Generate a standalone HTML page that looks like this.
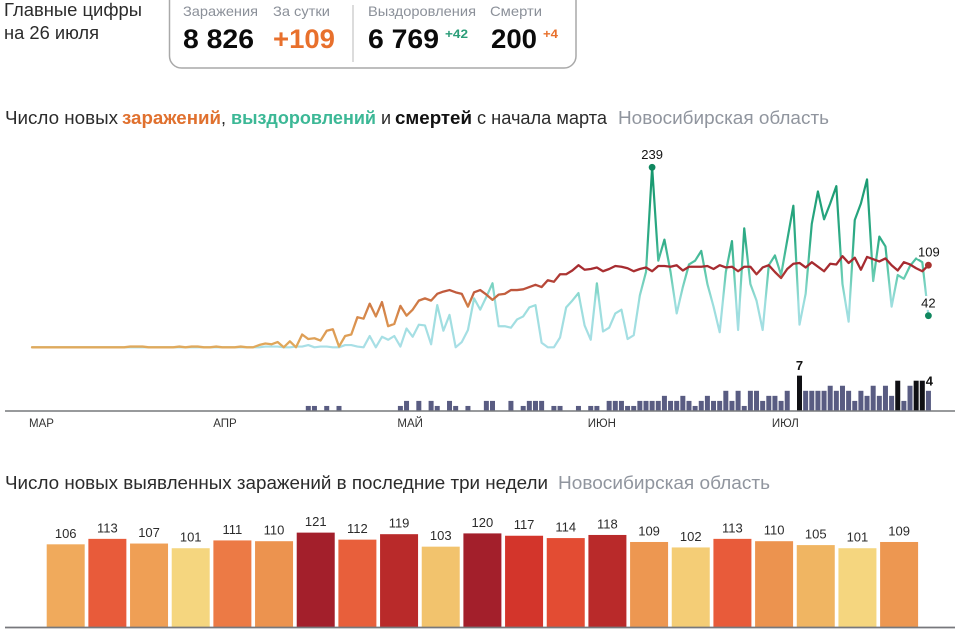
<!DOCTYPE html>
<html lang="ru">
<head>
<meta charset="utf-8">
<title>Коронавирус: Новосибирская область</title>
<style>
  html, body { margin: 0; padding: 0; background: #fff; }
  #stage { position: relative; width: 960px; height: 629px; overflow: hidden; background: #fff; }
  svg { position: absolute; left: 0; top: 0; display: block; }
  text { font-family: "Liberation Sans", "DejaVu Sans", sans-serif; }
</style>
</head>
<body>
<div id="stage">
<svg id="chart" width="960" height="629" viewBox="0 0 960 629" xmlns="http://www.w3.org/2000/svg">
  <defs>
    <linearGradient id="recoveries-gradient" gradientUnits="userSpaceOnUse" x1="0" x2="0" y1="347.3" y2="167"></linearGradient>
    <linearGradient id="infections-gradient" gradientUnits="userSpaceOnUse" x1="0" x2="0" y1="347.3" y2="167"></linearGradient>
  </defs>

  <text x="4" y="16" font-size="18" fill="#2b2b2b" textLength="138" lengthAdjust="spacingAndGlyphs">Главные цифры</text>
  <text x="4" y="39" font-size="18" fill="#2b2b2b" textLength="95" lengthAdjust="spacingAndGlyphs">на 26 июля</text>

  <rect x="169.5" y="-20" width="406.5" height="88" rx="12" ry="12" fill="#fff" stroke="#a9a9a9" stroke-width="1.5"/>
  <line x1="353" x2="353" y1="5" y2="62" stroke="#b9b9b9" stroke-width="1"/>

  <text x="183" y="16" font-size="14" fill="#8b9099" textLength="75" lengthAdjust="spacingAndGlyphs">Заражения</text>
  <text x="273" y="16" font-size="14" fill="#8b9099" textLength="57" lengthAdjust="spacingAndGlyphs">За сутки</text>
  <text x="368" y="16" font-size="14" fill="#8b9099" textLength="108" lengthAdjust="spacingAndGlyphs">Выздоровления</text>
  <text x="490" y="16" font-size="14" fill="#8b9099" textLength="52" lengthAdjust="spacingAndGlyphs">Смерти</text>

  <text x="183" y="48" font-size="27" font-weight="700" fill="#0b0b0b" textLength="71" lengthAdjust="spacingAndGlyphs">8 826</text>
  <text x="273" y="48" font-size="27" font-weight="700" fill="#e8702c" textLength="62" lengthAdjust="spacingAndGlyphs">+109</text>
  <text x="368" y="48" font-size="27" font-weight="700" fill="#0b0b0b" textLength="71" lengthAdjust="spacingAndGlyphs">6 769</text>
  <text x="445" y="38" font-size="12" font-weight="700" fill="#2a9d78" textLength="23" lengthAdjust="spacingAndGlyphs">+42</text>
  <text x="491" y="48" font-size="27" font-weight="700" fill="#0b0b0b" textLength="46" lengthAdjust="spacingAndGlyphs">200</text>
  <text x="543" y="38" font-size="12" font-weight="700" fill="#e8702c" textLength="15" lengthAdjust="spacingAndGlyphs">+4</text>

  <g>
    <text x="5" y="124" font-size="18" fill="#2b2b2b" textLength="113" lengthAdjust="spacingAndGlyphs">Число новых</text>
    <text x="122" y="124" font-size="18" font-weight="700" fill="#e0712f" textLength="99" lengthAdjust="spacingAndGlyphs">заражений</text>
    <text x="221" y="124" font-size="18" fill="#2b2b2b">,</text>
    <text x="231" y="124" font-size="18" font-weight="700" fill="#3cb896" textLength="145" lengthAdjust="spacingAndGlyphs">выздоровлений</text>
    <text x="381" y="124" font-size="18" fill="#2b2b2b">и</text>
    <text x="395" y="124" font-size="18" font-weight="700" fill="#111" textLength="77" lengthAdjust="spacingAndGlyphs">смертей</text>
    <text x="477" y="124" font-size="18" fill="#2b2b2b" textLength="130" lengthAdjust="spacingAndGlyphs">с начала марта</text>
    <text x="618" y="124" font-size="18" fill="#90959e" textLength="211" lengthAdjust="spacingAndGlyphs">Новосибирская область</text>
  </g>

  <g id="line-chart"></g>

  <g>
    <text x="5" y="489" font-size="18" fill="#2b2b2b" textLength="543" lengthAdjust="spacingAndGlyphs">Число новых выявленных заражений в последние три недели</text>
    <text x="558" y="489" font-size="18" fill="#90959e" textLength="212" lengthAdjust="spacingAndGlyphs">Новосибирская область</text>
  </g>

  <g id="bar-chart"></g>
</svg>
</div>

<script>
const monthLabels = ["МАР", "АПР", "МАЙ", "ИЮН", "ИЮЛ"];
const monthStartDays = [0, 30, 60, 91, 121];

const infections = [
  0, 0, 0, 0, 0, 0, 0, 0, 0, 0,
  0, 0, 0, 0, 0, 0, 1, 1, 1, 0,
  0, 0, 0, 0, 1, 0, 1, 1, 0, 0,
  1, 0, 0, 0, 1, 0, 0, 3, 5, 4,
  7, 0, 8, 0, 17, 11, 12, 9, 22, 24,
  1, 15, 17, 40, 38, 58, 41, 60, 28, 31,
  55, 42, 50, 62, 65, 62, 71, 74, 76, 73,
  71, 54, 73, 76, 70, 63, 70, 71, 76, 76,
  77, 80, 83, 80, 89, 87, 97, 97, 102, 109,
  103, 104, 106, 101, 104, 108, 107, 105, 101, 104,
  106, 101, 108, 108, 107, 109, 102, 107, 107, 107,
  108, 104, 109, 106, 107, 101, 107, 107, 97, 106,
  109, 100, 92, 104, 111, 112, 106, 113, 107, 101,
  111, 110, 121, 112, 119, 103, 120, 117, 114, 118,
  109, 102, 113, 110, 105, 101, 109
];

const recoveries = [
  0, 0, 0, 0, 0, 0, 0, 0, 0, 0,
  0, 0, 0, 0, 0, 0, 0, 0, 0, 0,
  0, 0, 0, 0, 0, 0, 0, 0, 0, 0,
  0, 0, 0, 0, 0, 0, 0, 0, 1, 1,
  1, 0, 0, 1, 1, 3, 0, 1, 1, 0,
  0, 3, 3, 1, 0, 15, 0, 14, 10, 15,
  1, 25, 14, 30, 29, 4, 56, 22, 43, 0,
  7, 23, 65, 50, 67, 85, 28, 28, 26, 37,
  41, 53, 56, 6, 0, 0, 13, 53, 62, 72,
  29, 10, 85, 21, 26, 45, 50, 11, 16, 69,
  100, 239, 115, 143, 100, 45, 80, 110, 115, 128,
  84, 54, 20, 100, 141, 23, 158, 84, 62, 23,
  109, 122, 96, 142, 188, 30, 71, 164, 207, 170,
  191, 214, 84, 34, 169, 191, 223, 88, 147, 134,
  54, 96, 91, 108, 118, 113, 42
];

const deaths = [
  0, 0, 0, 0, 0, 0, 0, 0, 0, 0,
  0, 0, 0, 0, 0, 0, 0, 0, 0, 0,
  0, 0, 0, 0, 0, 0, 0, 0, 0, 0,
  0, 0, 0, 0, 0, 0, 0, 0, 0, 0,
  0, 0, 0, 0, 0, 1, 1, 0, 1, 0,
  1, 0, 0, 0, 0, 0, 0, 0, 0, 0,
  1, 2, 0, 2, 0, 2, 1, 0, 2, 1,
  0, 1, 0, 0, 2, 2, 0, 0, 2, 0,
  1, 2, 2, 2, 0, 1, 1, 0, 0, 1,
  0, 1, 1, 0, 2, 2, 2, 1, 1, 2,
  2, 2, 2, 3, 2, 2, 3, 2, 1, 2,
  3, 2, 2, 4, 2, 4, 1, 4, 4, 2,
  3, 3, 2, 4, 0, 7, 4, 4, 4, 4,
  5, 4, 5, 4, 2, 4, 3, 5, 3, 5,
  3, 6, 2, 5, 6, 6, 4
];

const highlightedDeathDays = [125, 141, 144, 145];

const recentCases = [106, 113, 107, 101, 111, 110, 121, 112, 119, 103, 120, 117, 114, 118, 109, 102, 113, 110, 105, 101, 109];

const SVG_NS = "http://www.w3.org/2000/svg";

function make(parent, tag, attrs, content) {
  const el = document.createElementNS(SVG_NS, tag);
  for (const key in attrs) el.setAttribute(key, attrs[key]);
  if (content !== undefined) el.textContent = content;
  parent.appendChild(el);
  return el;
}

/* Axis functions */
const xDay = function (i) { return 32 + 6.14 * i; };
const yLine = function (v) { return 347.3 - 0.753 * v; };
const yDeath = function (v) { return 411 - 5.05 * v; };
const xBar = function (i) { return 46.7 + 41.67 * i; };
const yBar = function (v) { return 627 - 0.78 * v; };

/* Line gradients run along the value axis */
function addStops(id, stops) {
  const grad = document.getElementById(id);
  const y0 = yLine(0);
  const y1 = yLine(239);
  grad.setAttribute("y1", y0);
  grad.setAttribute("y2", y1);
  stops.forEach(function (s) {
    make(grad, "stop", { offset: s[0], "stop-color": s[1] });
  });
}
addStops("recoveries-gradient", [
  [0, "#a9dfe6"], [0.25, "#9bdedd"], [0.42, "#5fc9ab"], [0.6, "#2fac87"], [1, "#15966c"]
]);
addStops("infections-gradient", [
  [0, "#e0aa5c"], [0.12, "#dc9450"], [0.25, "#cf7a45"], [0.33, "#bb4f3a"], [0.44, "#a62b30"], [1, "#a0262c"]
]);

function linePath(values) {
  return values.map(function (v, i) {
    return (i === 0 ? "M" : "L") + xDay(i).toFixed(2) + " " + yLine(v).toFixed(2);
  }).join(" ");
}

const lineChart = document.getElementById("line-chart");

/* Deaths bars */
const deathsGroup = make(lineChart, "g", {});


deaths.forEach(function (v, i) {
  if (v <= 0) return;
  const bar = make(deathsGroup, "rect", {
    x: (xDay(i) - 2.5).toFixed(2),
    y: yDeath(v).toFixed(2),
    width: 5,
    height: (yDeath(0) - yDeath(v)).toFixed(2),
    fill: highlightedDeathDays.indexOf(i) >= 0 ? "#101014" : "#595c82"
  });
  
  
});

/* Axis */
const lineAxis = make(lineChart, "line", { x1: 5, x2: 955, y1: 411, y2: 411, stroke: "#77787c", "stroke-width": 1.6 });



monthLabels.forEach(function (label, i) {
  const tick = make(lineChart, "text", {
    x: (xDay(monthStartDays[i]) - 3).toFixed(1),
    y: 427,
    "font-size": 11.5,
    fill: "#333"
  }, label);
  
  
});

/* Lines */
const recoveriesLine = make(lineChart, "path", {
  d: linePath(recoveries), fill: "none", stroke: "url(#recoveries-gradient)",
  "stroke-width": 2.2, "stroke-linejoin": "round", "stroke-linecap": "round"
});



const infectionsLine = make(lineChart, "path", {
  d: linePath(infections), fill: "none", stroke: "url(#infections-gradient)",
  "stroke-width": 2.3, "stroke-linejoin": "round", "stroke-linecap": "round"
});



/* Point markers and value labels */
function pointLabel(x, y, value, weight) {
  const t = make(lineChart, "text", {
    x: x.toFixed(1), y: y.toFixed(1), "text-anchor": "middle", "font-size": 13,
    "font-weight": weight, fill: "#141414", stroke: "#fff", "stroke-width": 5,
    "paint-order": "stroke", "stroke-linejoin": "round"
  }, String(value));
  return t;
}

const peak = Math.max.apply(null, recoveries);
const peakDay = recoveries.indexOf(peak);
const lastDay = recoveries.length - 1;

const peakDot = make(lineChart, "circle", { cx: xDay(peakDay).toFixed(1), cy: yLine(peak).toFixed(1), r: 3.4, fill: "#10875f" });



const peakLabel = pointLabel(xDay(peakDay), yLine(peak) - 8.5, peak, 400);



const lastRecoveriesLabel = pointLabel(xDay(lastDay), yLine(recoveries[lastDay]) - 8, recoveries[lastDay], 400);



const lastRecoveriesDot = make(lineChart, "circle", { cx: xDay(lastDay).toFixed(1), cy: yLine(recoveries[lastDay]).toFixed(1), r: 3.4, fill: "#10875f" });



const lastInfectionsLabel = pointLabel(xDay(lastDay) + 0.5, yLine(infections[lastDay]) - 8.5, infections[lastDay], 400);



const lastInfectionsDot = make(lineChart, "circle", { cx: xDay(lastDay).toFixed(1), cy: yLine(infections[lastDay]).toFixed(1), r: 3.4, fill: "#a8322f" });



const maxDeaths = Math.max.apply(null, deaths);
const maxDeathsDay = deaths.indexOf(maxDeaths);
const maxDeathsLabel = make(lineChart, "text", {
  x: xDay(maxDeathsDay).toFixed(1), y: (yDeath(maxDeaths) - 5.5).toFixed(1),
  "text-anchor": "middle", "font-size": 13, "font-weight": 700, fill: "#141414"
}, String(maxDeaths));



const lastDeathsLabel = make(lineChart, "text", {
  x: (xDay(lastDay) + 1).toFixed(1), y: (yDeath(deaths[lastDay]) - 5.5).toFixed(1),
  "text-anchor": "middle", "font-size": 13, "font-weight": 700, fill: "#141414"
}, String(deaths[lastDay]));



/* Colour scale for the three-week bars */
const colorDomain = [101, 103, 105, 107, 110, 111, 112, 113, 114, 117, 118, 119, 120];
const colorRange = ["#f5d67f", "#f2c36d", "#f0b562", "#ef9f55", "#ec934f", "#ec7a45", "#e85f3b", "#e85b3a", "#e34c33", "#d3352b", "#b92a2a", "#b92a2a", "#a31f2b"];

function hexToRgb(hex) {
  return [1, 3, 5].map(function (p) { return parseInt(hex.substr(p, 2), 16); });
}
function barColor(v) {
  if (v <= colorDomain[0]) return colorRange[0];
  for (let k = 1; k < colorDomain.length; k++) {
    if (v <= colorDomain[k]) {
      const t = (v - colorDomain[k - 1]) / (colorDomain[k] - colorDomain[k - 1]);
      const a = hexToRgb(colorRange[k - 1]);
      const b = hexToRgb(colorRange[k]);
      return "rgb(" + a.map(function (c, n) { return Math.round(c + (b[n] - c) * t); }).join(",") + ")";
    }
  }
  return colorRange[colorRange.length - 1];
}

/* Three-week bars */
const barChart = document.getElementById("bar-chart");
recentCases.forEach(function (v, i) {
  const bar = make(barChart, "rect", {
    x: xBar(i).toFixed(2),
    y: yBar(v).toFixed(2),
    width: 38,
    height: (yBar(0) - yBar(v)).toFixed(2),
    fill: barColor(v)
  });
  
  

  const label = make(barChart, "text", {
    x: (xBar(i) + 19).toFixed(2),
    y: (yBar(v) - 6.5).toFixed(2),
    "text-anchor": "middle",
    "font-size": 13,
    fill: "#2b2b2b"
  }, String(v));
  
  
});

const barAxis = make(barChart, "line", { x1: 5, x2: 955, y1: 627.5, y2: 627.5, stroke: "#77787c", "stroke-width": 1.8 });


</script>
</body>
</html>
